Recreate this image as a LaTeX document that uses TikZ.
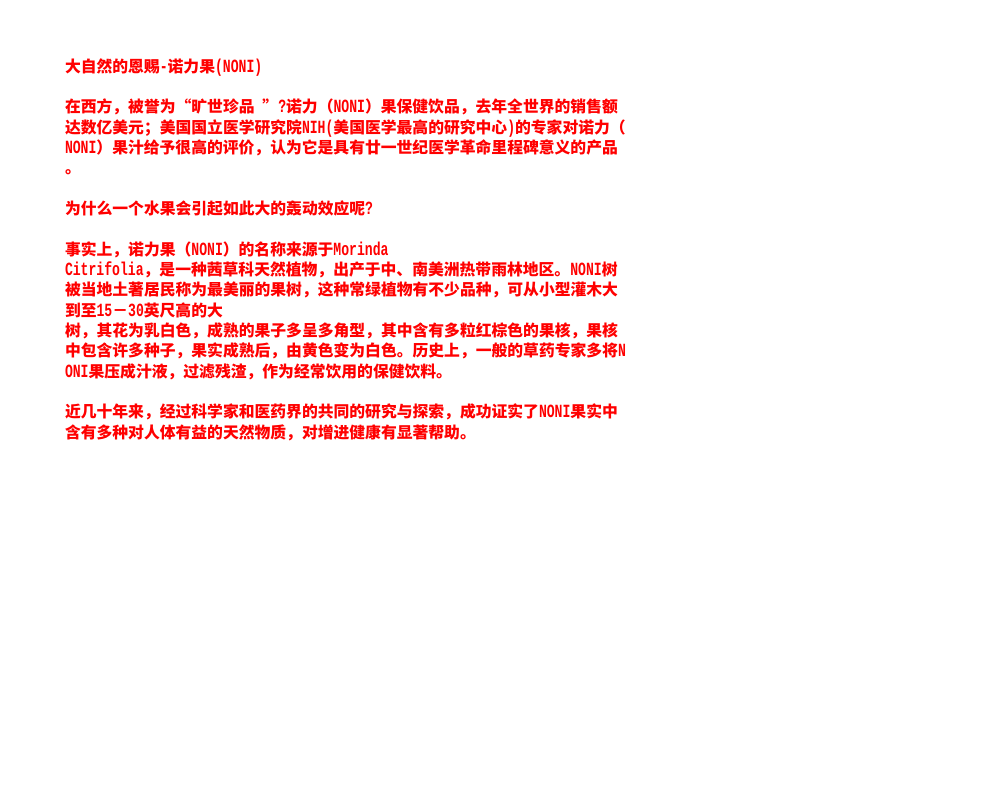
\documentclass[tikz,border=0pt]{standalone}
\usepackage{fontspec}
\usepackage{graphicx}
\newfontfamily\cjkf{Noto Sans CJK SC}
\newfontfamily\latf{Liberation Mono}
\newcommand\lt[1]{\scalebox{0.705}[1]{\latf\bfseries\fontsize{18.6pt}{20pt}\selectfont #1}}
\newcommand\hs{\hspace{7.9pt}}
\tikzset{ln/.style={anchor=base west, inner sep=0pt, outer sep=0pt, text=red, font=\cjkf\bfseries\fontsize{15.8pt}{20pt}\selectfont}}
\begin{document}
\begin{tikzpicture}[x=1pt,y=1pt]
\useasboundingbox[fill=white] (0,0) rectangle (1000,-800);
\begin{scope}
\clip (0,0) rectangle (625,-800);
\node[ln] (l0) at (65,-72) {大自然的恩赐\lt{-}诺力果\lt{(NONI)}};
\node[ln] (l2) at (65,-112.7) {在西方，被誉为“旷世珍品\hs”\lt{?}诺力（\lt{NONI}）果保健饮品，去年全世界的销售额};
\node[ln] (l3) at (65,-133) {达数亿美元；美国国立医学研究院\lt{NIH(}美国医学最高的研究中心\lt{)}的专家对诺力（};
\node[ln] (l4) at (65,-153.3) {\lt{NONI}）果汁给予很高的评价，认为它是具有廿一世纪医学革命里程碑意义的产品};
\node[ln] (l5) at (65,-173.7) {。};
\node[ln] (l7) at (65,-214.3) {为什么一个水果会引起如此大的轰动效应呢\lt{?}};
\node[ln] (l9) at (65,-255) {事实上，诺力果（\lt{NONI}）的名称来源于\lt{Morinda}};
\node[ln] (l10) at (65,-275.3) {\lt{Citrifolia}，是一种茜草科天然植物，出产于中、南美洲热带雨林地区。\lt{NONI}树};
\node[ln] (l11) at (65,-295.6) {被当地土著居民称为最美丽的果树，这种常绿植物有不少品种，可从小型灌木大};
\node[ln] (l12) at (65,-316) {到至\lt{15}－\lt{30}英尺高的大};
\node[ln] (l13) at (65,-336.3) {树，其花为乳白色，成熟的果子多呈多角型，其中含有多粒红棕色的果核，果核};
\node[ln] (l14) at (65,-356.6) {中包含许多种子，果实成熟后，由黄色变为白色。历史上，一般的草药专家多将\lt{N}};
\node[ln] (l15) at (65,-377) {\lt{ONI}果压成汁液，过滤残渣，作为经常饮用的保健饮料。};
\node[ln] (l17) at (65,-417.6) {近几十年来，经过科学家和医药界的共同的研究与探索，成功证实了\lt{NONI}果实中};
\node[ln] (l18) at (65,-438) {含有多种对人体有益的天然物质，对增进健康有显著帮助。};
\end{scope}
\end{tikzpicture}
\end{document}
